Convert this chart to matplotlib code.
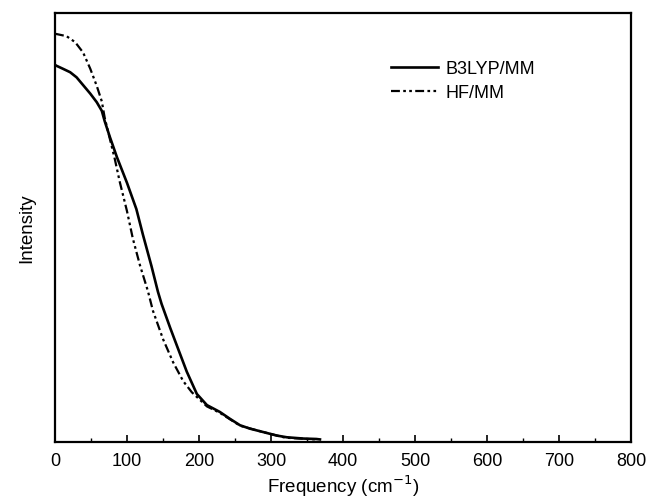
import matplotlib
matplotlib.use("Agg")
import matplotlib.pyplot as plt
from matplotlib.ticker import MultipleLocator

plt.rcParams['font.family'] = ['Liberation Sans', 'DejaVu Sans']

# B3LYP/MM spectrum (frequency in cm^-1, relative intensity)
b3lyp_freq = [0, 2, 11, 21, 30, 39, 49, 58, 65, 69, 76, 86, 100, 113, 122, 134,
              143, 148, 160, 169, 183, 197, 211, 229, 243, 257, 271, 285, 308,
              322, 345, 363, 368]
b3lyp_int = [0.879, 0.877, 0.870, 0.862, 0.850, 0.832, 0.812, 0.792, 0.772, 0.748,
             0.712, 0.664, 0.604, 0.543, 0.484, 0.410, 0.350, 0.322, 0.266, 0.226,
             0.164, 0.112, 0.086, 0.070, 0.054, 0.039, 0.031, 0.025, 0.015, 0.011,
             0.008, 0.007, 0.006]

# HF/MM spectrum
hf_freq = [0, 2, 16, 28, 39, 49, 58, 65, 69, 76, 83, 90, 100, 108, 118, 129, 136,
           150, 164, 178, 190, 211, 229, 257, 285, 320, 362]
hf_int = [0.951, 0.951, 0.946, 0.932, 0.908, 0.870, 0.830, 0.794, 0.756, 0.708,
          0.660, 0.606, 0.538, 0.475, 0.412, 0.352, 0.306, 0.240, 0.186, 0.142,
          0.116, 0.083, 0.068, 0.038, 0.025, 0.010, 0.006]

fig = plt.figure(figsize=(6.47, 5.02), dpi=100)
ax = fig.add_axes([55 / 647, 59 / 502, 576 / 647, 429 / 502])

ax.plot(b3lyp_freq, b3lyp_int, color='black', lw=1.9, label='B3LYP/MM')
ax.plot(hf_freq, hf_int, color='black', lw=1.6, dashes=(4, 1.5, 1.2, 1.5, 1.2, 1.5),
        label='HF/MM')

ax.set_xlim(0, 800)
ax.set_ylim(0, 1)
ax.xaxis.set_major_locator(MultipleLocator(100))
ax.xaxis.set_minor_locator(MultipleLocator(50))
ax.tick_params(axis='x', which='major', direction='in', length=5, width=1.2,
               labelsize=13, pad=7)
ax.tick_params(axis='x', which='minor', direction='in', length=3, width=1.0)
ax.set_yticks([])
for s in ax.spines.values():
    s.set_linewidth(1.6)

ax.set_xlabel('Frequency (cm$^{-1}$)', fontsize=13.5, labelpad=3)
ax.set_ylabel('Intensity', fontsize=13.5, labelpad=14)

ax.legend(loc='upper left', bbox_to_anchor=(0.555, 0.928), frameon=False,
          fontsize=13, handlelength=2.6, handletextpad=0.4, labelspacing=0.4)

fig.savefig('out.png', dpi=100)
